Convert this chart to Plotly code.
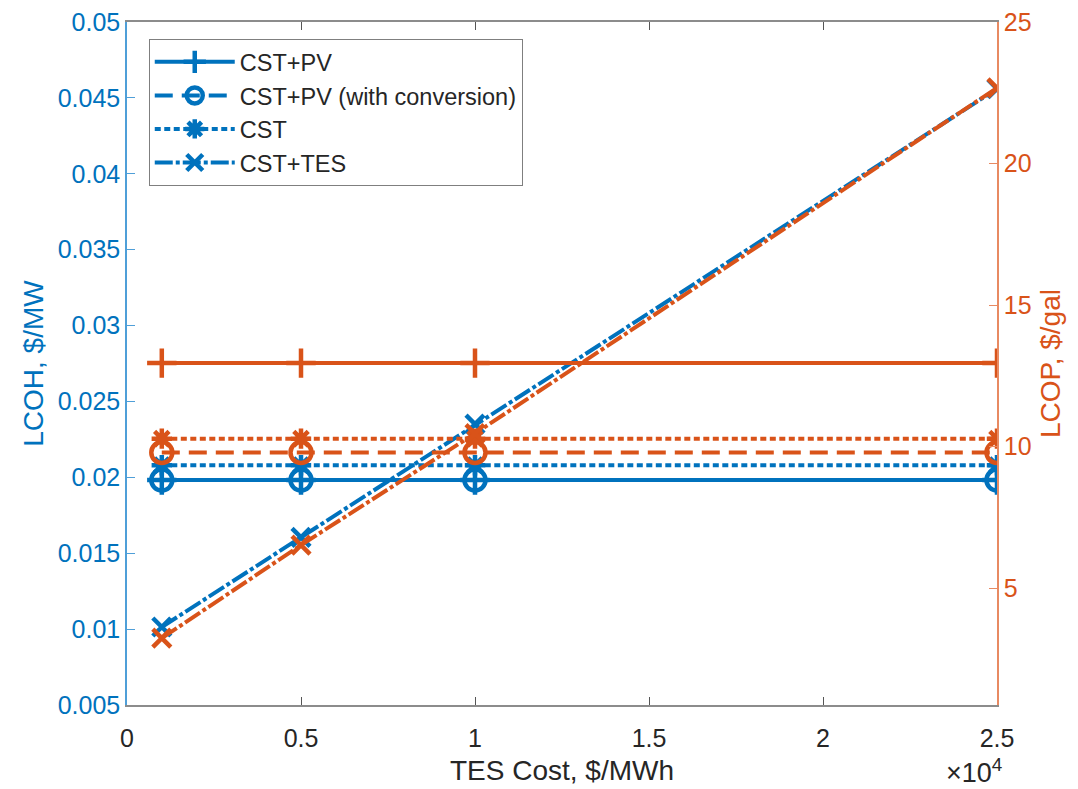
import plotly.graph_objects as go

# TES cost values (USD/MWh)
tes_cost = [1000, 5000, 10000, 25000]

# Levelized cost of heat (left axis, $/MW)
lcoh_cst_pv = [0.01982, 0.01982, 0.01982, 0.01982]
lcoh_cst_pv_conv = [0.01982, 0.01982, 0.01982, 0.01982]
lcoh_cst = [0.0208, 0.0208, 0.0208, 0.0208]
lcoh_cst_tes = [0.01014, 0.01605, 0.0235, 0.0456]

# Levelized cost of product (right axis, $/gal)
lcop_cst_pv = [12.95, 12.95, 12.95, 12.95]
lcop_cst_pv_conv = [9.79, 9.79, 9.79, 9.79]
lcop_cst = [10.28, 10.28, 10.28, 10.28]
lcop_cst_tes = [3.23, 6.52, 10.46, 22.67]

series_names = ["CST+PV", "CST+PV (with conversion)", "CST", "CST+TES"]

x_tick_vals = [0, 5000, 10000, 15000, 20000, 25000]
x_tick_text = ["0", "0.5", "1", "1.5", "2", "2.5"]
left_tick_vals = [0.005, 0.01, 0.015, 0.02, 0.025, 0.03, 0.035, 0.04, 0.045, 0.05]
left_tick_text = ["0.005", "0.01", "0.015", "0.02", "0.025", "0.03", "0.035", "0.04", "0.045", "0.05"]
right_tick_vals = [5, 10, 15, 20, 25]

BLUE = "#0072BD"
ORANGE = "#D95319"
TEXT = "#262626"
FONT = "Liberation Sans, Arial, sans-serif"

# line dash and marker style per series
dashes = ["solid", "18px,9px", "6px,3.5px", "18px,3px,4px,3px"]
symbols = ["cross-thin", "circle-open", "asterisk-open", "x-thin"]
sizes = [21, 21, 17, 18]

fig = go.Figure()

left_series = [lcoh_cst_pv, lcoh_cst_pv_conv, lcoh_cst, lcoh_cst_tes]
right_series = [lcop_cst_pv, lcop_cst_pv_conv, lcop_cst, lcop_cst_tes]

for name, ys, dash, sym, sz in zip(series_names, left_series, dashes, symbols, sizes):
    fig.add_trace(go.Scatter(
        x=tes_cost, y=ys, name=name, mode="lines+markers", yaxis="y",
        line=dict(color=BLUE, width=4, dash=dash),
        marker=dict(symbol=sym, size=sz, color=BLUE,
                    line=dict(color=BLUE, width=4.5)),
    ))

for name, ys, dash, sym, sz in zip(series_names, right_series, dashes, symbols, sizes):
    fig.add_trace(go.Scatter(
        x=tes_cost, y=ys, name=name, mode="lines+markers", yaxis="y2",
        showlegend=False,
        line=dict(color=ORANGE, width=4, dash=dash),
        marker=dict(symbol=sym, size=sz, color=ORANGE,
                    line=dict(color=ORANGE, width=4.5)),
    ))

fig.update_layout(
    width=1078, height=789,
    margin=dict(l=127, r=81, t=22, b=84),
    paper_bgcolor="white", plot_bgcolor="white",
    font=dict(family=FONT, size=24, color=TEXT),
    showlegend=True,
    legend=dict(
        x=0.025, y=0.975, xanchor="left", yanchor="top",
        bgcolor="white", bordercolor="#7f7f7f", borderwidth=1,
        font=dict(family=FONT, size=23.5, color=TEXT),
        itemwidth=80, tracegroupgap=0,
    ),
    xaxis=dict(
        range=[0, 25000], tickvals=x_tick_vals, ticktext=x_tick_text,
        showgrid=False, zeroline=False, automargin=False,
        showline=True, linecolor="#8c8c8c", linewidth=1.5, mirror="ticks",
        ticks="inside", ticklen=8, tickcolor="#555555",
        ticklabelstandoff=10,
        tickfont=dict(family=FONT, size=25, color=TEXT),
        title=dict(text="TES Cost, $/MWh", standoff=10,
                   font=dict(family=FONT, size=28, color=TEXT)),
    ),
    yaxis=dict(
        range=[0.005, 0.05], tickvals=left_tick_vals, ticktext=left_tick_text,
        showgrid=False, zeroline=False, automargin=False,
        showline=True, linecolor="#4f9fd8", linewidth=1.5,
        ticks="inside", ticklen=8, tickcolor="#4f9fd8",
        tickfont=dict(family=FONT, size=25, color=BLUE),
        title=dict(text="LCOH, $/MW", standoff=6,
                   font=dict(family=FONT, size=28, color=BLUE)),
    ),
    yaxis2=dict(
        range=[0.87, 25], tickvals=right_tick_vals,
        overlaying="y", side="right", automargin=False,
        showgrid=False, zeroline=False,
        showline=True, linecolor="#e88a62", linewidth=1.5,
        ticks="inside", ticklen=8, tickcolor="#e88a62",
        tickfont=dict(family=FONT, size=25, color=ORANGE),
        title=dict(text="LCOP, $/gal", standoff=10,
                   font=dict(family=FONT, size=28, color=ORANGE)),
    ),
    annotations=[dict(
        text="×10<sup>4</sup>", xref="paper", yref="paper",
        x=1.008, y=-0.124, xanchor="right", yanchor="bottom", showarrow=False,
        font=dict(family=FONT, size=27, color=TEXT),
    )],
)

fig.write_html("out.html")
